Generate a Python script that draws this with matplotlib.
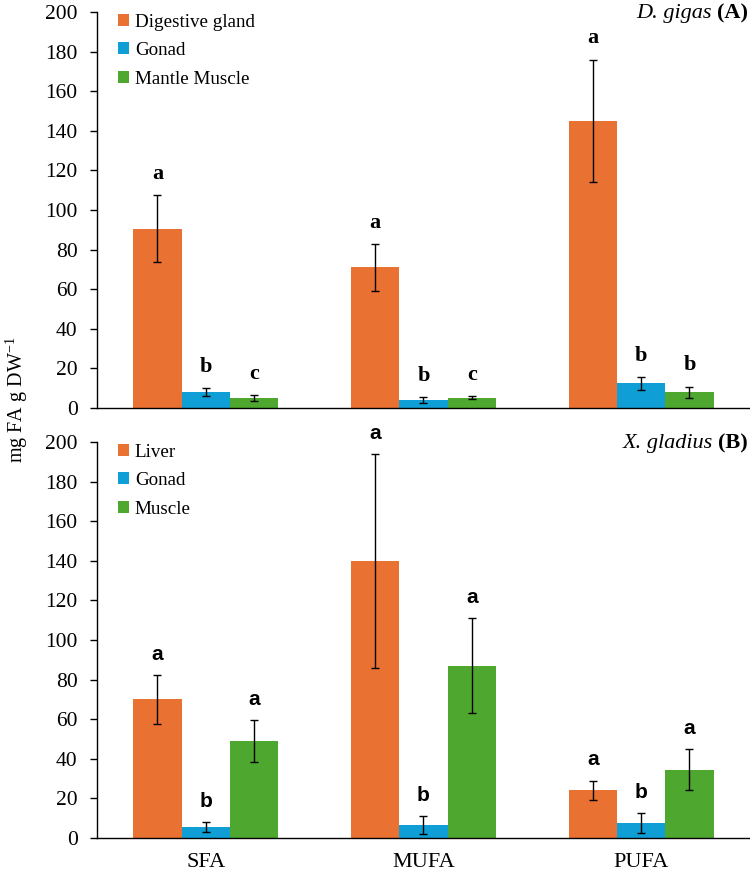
import matplotlib
matplotlib.use('Agg')
import matplotlib.pyplot as plt
import numpy as np

plt.rcParams['font.family'] = ['Liberation Serif', 'DejaVu Serif']
plt.rcParams['mathtext.default'] = 'regular'

categories = ['SFA', 'MUFA', 'PUFA']

# D. gigas (A)
squid_labels = ['Digestive gland', 'Gonad', 'Mantle Muscle']
squid_means = [[90.5, 71.0, 145.0],
               [8.0, 4.0, 12.5],
               [5.0, 5.2, 8.0]]
squid_errs = [[17.0, 12.0, 31.0],
              [2.0, 1.5, 3.2],
              [1.5, 0.7, 2.8]]
squid_letters = [['a', 'a', 'a'],
                 ['b', 'b', 'b'],
                 ['c', 'c', 'b']]

# X. gladius (B)
sword_labels = ['Liver', 'Gonad', 'Muscle']
sword_means = [[70.0, 140.0, 24.0],
               [5.5, 6.5, 7.5],
               [49.0, 87.0, 34.5]]
sword_errs = [[12.5, 54.0, 5.0],
              [2.5, 4.5, 5.0],
              [10.5, 24.0, 10.5]]
sword_letters = [['a', 'a', 'a'],
                 ['b', 'b', 'b'],
                 ['a', 'a', 'a']]

colors = ['#E97132', '#0F9ED5', '#4EA72E']


def plot_panel(ax, labels, means, errs, letters, species, tag, letter_font, letter_size, show_x):
    x = np.arange(len(categories))
    w = 0.222
    for i in range(3):
        pos = x + (i - 1) * w
        ax.bar(pos, means[i], w, color=colors[i], label=labels[i], zorder=2)
        ax.errorbar(pos, means[i], yerr=errs[i], fmt='none', ecolor='black',
                    elinewidth=1, capsize=3, capthick=1, zorder=3)
        for p, m, e, s in zip(pos, means[i], errs[i], letters[i]):
            ax.annotate(s, (p, m + e), xytext=(0, 8), textcoords='offset points',
                        ha='center', va='bottom', fontsize=letter_size, fontweight='bold',
                        family=letter_font)
    ax.set_xlim(-0.5, 2.5)
    ax.set_ylim(0, 200)
    ax.set_yticks(range(0, 201, 20))
    ax.spines['top'].set_visible(False)
    ax.spines['right'].set_visible(False)
    ax.spines['left'].set_linewidth(1)
    ax.spines['bottom'].set_linewidth(1)
    ax.tick_params(axis='y', length=5, width=1, pad=9, labelsize=15.5)
    ax.tick_params(axis='x', length=0, pad=11, labelsize=16)
    ax.set_xticks(x)
    if show_x:
        ax.set_xticklabels(categories)
    else:
        ax.set_xticklabels([])
    ax.legend(loc='upper left', bbox_to_anchor=(0.02, 1.015), frameon=False,
              fontsize=13.7, handlelength=0.6, handleheight=0.6, handletextpad=0.3,
              labelspacing=0.6, borderaxespad=0)
    t = ax.text(0.997, 0.997, tag, transform=ax.transAxes, ha='right', va='center',
                fontsize=16, fontweight='bold')
    ax.annotate(species + ' ', xy=(0, 0.5), xycoords=t, ha='right', va='center',
                fontsize=16, style='italic')


fig = plt.figure(figsize=(7.5, 8.77), dpi=100)
ax1 = fig.add_axes([0.1293, 0.5348, 0.8707, 0.4515])
ax2 = fig.add_axes([0.1293, 0.0445, 0.8707, 0.4515])

plot_panel(ax1, squid_labels, squid_means, squid_errs, squid_letters,
           'D. gigas', '(A)', ['Liberation Serif'], 16, False)
plot_panel(ax2, sword_labels, sword_means, sword_errs, sword_letters,
           'X. gladius', '(B)', ['Liberation Sans'], 15, True)

fig.text(0.022, 0.544, r'mg FA g DW$^{-1}$', rotation=90, ha='center', va='center',
         fontsize=14.5)

fig.savefig('out.png', dpi=100)
